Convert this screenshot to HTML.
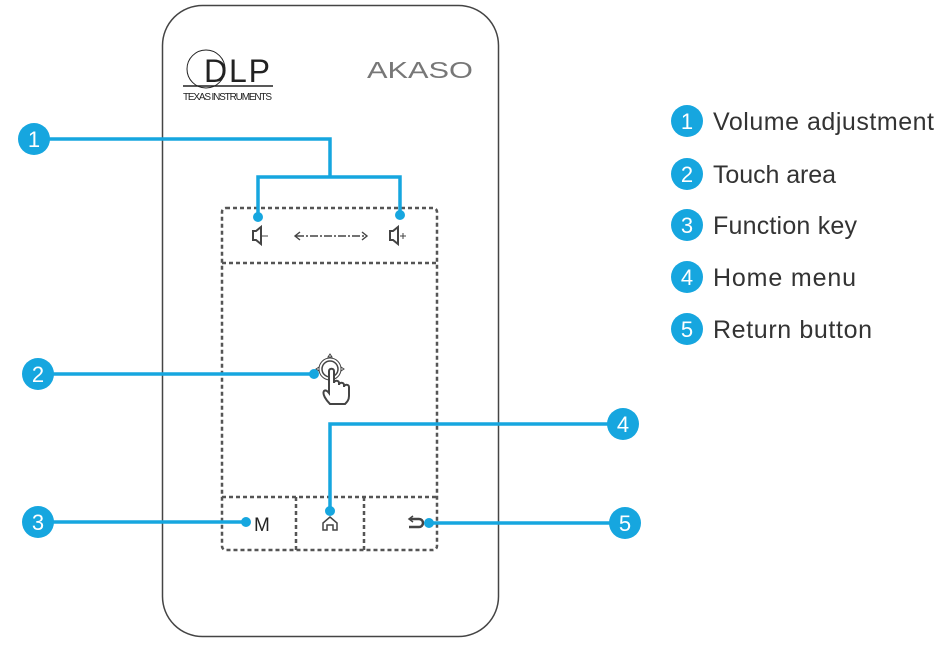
<!DOCTYPE html>
<html><head><meta charset="utf-8"><style>
html,body{margin:0;padding:0;background:#fff;width:940px;height:649px;overflow:hidden}
</style></head><body>
<svg width="940" height="649" xmlns="http://www.w3.org/2000/svg" font-family="Liberation Sans, sans-serif">
<rect x="162.5" y="5.5" width="336" height="631" rx="40" fill="none" stroke="#444" stroke-width="1.5"/>
<!-- DLP logo -->
<circle cx="206" cy="69" r="19" fill="none" stroke="#222" stroke-width="1"/>
<text x="204" y="82" font-size="32" fill="#222" textLength="66">DLP</text>
<line x1="183" y1="86" x2="273" y2="86" stroke="#222" stroke-width="1.5"/>
<text x="183" y="100" font-size="10" fill="#222" textLength="89">TEXAS INSTRUMENTS</text>
<text x="367" y="78" font-size="23" fill="#777" textLength="106" lengthAdjust="spacingAndGlyphs">AKASO</text>
<!-- dotted panel -->
<g stroke="#555" stroke-width="2.5" stroke-dasharray="4,3" fill="none">
<rect x="222" y="208" width="215" height="342" rx="4"/>
<line x1="222" y1="263" x2="437" y2="263"/>
<line x1="222" y1="497" x2="437" y2="497"/>
<line x1="296" y1="497" x2="296" y2="550"/>
<line x1="364" y1="497" x2="364" y2="550"/>
</g>
<!-- icons -->
<g stroke="#444" stroke-width="2" fill="none">
<path d="M253 231h3l5-4v17l-5-4h-3z"/>
<line x1="262" y1="236" x2="268" y2="236" stroke-width="1"/>
<path d="M390 231h3l5-4v17l-5-4h-3z"/>
<line x1="400" y1="236" x2="406" y2="236" stroke-width="1"/><line x1="403" y1="233" x2="403" y2="239" stroke-width="1"/>
<line x1="296" y1="236" x2="366" y2="236" stroke-dasharray="8,2,2,2" stroke-width="1.6"/>
<path d="M300 232l-5 4 5 4M362 232l5 4-5 4" stroke-width="1.4"/>
<path d="M323 530v-7l7-6 7 6v7h-4v-5h-6v5z" stroke-width="1.5"/>
<path d="M410 519h9a4 4 0 0 1 0 8h-10" stroke-width="2.5"/>
<path d="M413 516l-4 3 4 3" stroke-width="1.5"/>
<circle cx="330" cy="369" r="8" stroke-width="1.5"/><circle cx="330" cy="369" r="11" stroke-width="1"/>
<path d="M330 404c-4-4-8-10-6-13 2-2 5 2 5 2v-22c0-3 5-3 5 0v12c0-3 5-3 5 0v2c0-3 5-3 5 0v2c0-3 5-3 5 0v9c0 4-2 6-4 8z" fill="#fff" stroke-width="2"/>
<path d="M330 354l-2 3h4zM316 369l3-2v4zM344 369l-3-2v4z" stroke-width="1"/>
</g>
<text x="254" y="531" font-size="19" fill="#222">M</text>
<!-- connectors -->
<g stroke="#16a6df" stroke-width="3.5" fill="none">
<polyline points="34,139 330,139 330,177"/>
<polyline points="258,216 258,177 400,177 400,216"/>
<line x1="38" y1="374" x2="314" y2="374"/>
<line x1="38" y1="522" x2="246" y2="522"/>
<polyline points="330,511 330,424 623,424"/>
<line x1="429" y1="523" x2="625" y2="523"/>
</g>
<g fill="#16a6df">
<circle cx="258" cy="217" r="5"/><circle cx="400" cy="215" r="5"/>
<circle cx="314" cy="374" r="5"/><circle cx="246" cy="522" r="5"/>
<circle cx="330" cy="511" r="5"/><circle cx="429" cy="523" r="5"/>
<circle cx="34" cy="139" r="16"/><circle cx="38" cy="374" r="16"/><circle cx="38" cy="522" r="16"/>
<circle cx="623" cy="424" r="16"/><circle cx="625" cy="523" r="16"/>
<circle cx="687" cy="121" r="16"/><circle cx="687" cy="174" r="16"/><circle cx="687" cy="225" r="16"/><circle cx="687" cy="277" r="16"/><circle cx="687" cy="329" r="16"/>
</g>
<g fill="#fff" font-size="22" text-anchor="middle">
<text x="34" y="147">1</text><text x="38" y="382">2</text><text x="38" y="530">3</text>
<text x="623" y="432">4</text><text x="625" y="531">5</text>
<text x="687" y="129">1</text><text x="687" y="182">2</text><text x="687" y="233">3</text><text x="687" y="285">4</text><text x="687" y="337">5</text>
</g>
<g fill="#333" font-size="25">
<text x="713" y="130" textLength="221">Volume adjustment</text>
<text x="713" y="183" textLength="123">Touch area</text>
<text x="713" y="234" textLength="144">Function key</text>
<text x="713" y="286" textLength="143">Home menu</text>
<text x="713" y="338" textLength="159">Return button</text>
</g>
</svg>
</body></html>
